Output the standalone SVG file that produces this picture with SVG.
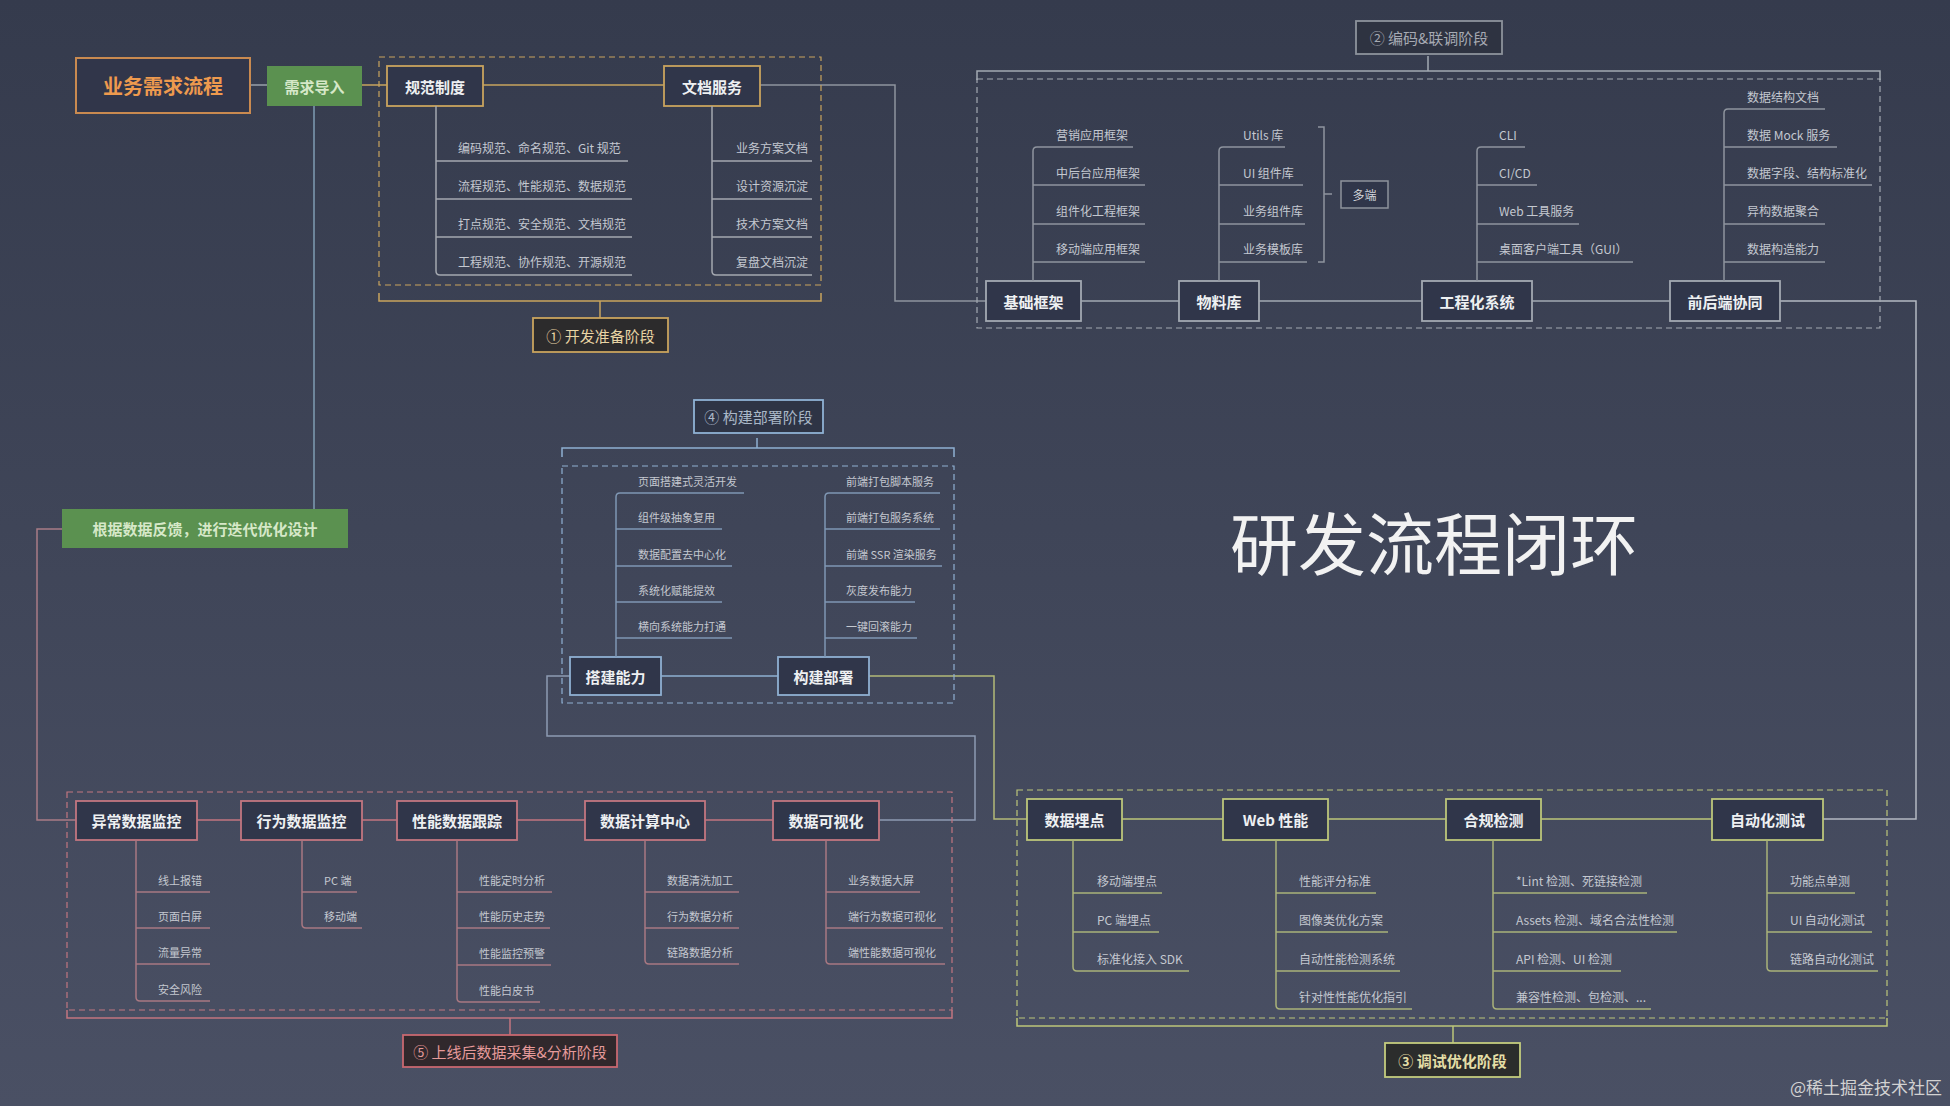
<svg xmlns="http://www.w3.org/2000/svg" width="1950" height="1106" viewBox="0 0 1950 1106">
<defs>
<linearGradient id="bg" x1="0" y1="0" x2="0" y2="1">
<stop offset="0" stop-color="#353b4d"/>
<stop offset="1" stop-color="#4a5064"/>
</linearGradient>
<style>
text{font-family:"Noto Sans CJK SC","Noto Sans",sans-serif;}
.nt{font-size:15px;font-weight:700;fill:#eef0f2;text-anchor:middle;dominant-baseline:central;}
.ct{font-size:12px;fill:#c4c8d0;}
.cs{font-size:11px;fill:#c4c8d0;}
.st{font-size:15px;text-anchor:middle;dominant-baseline:central;}
.ln{fill:none;stroke-width:1.5;}
.dash{fill:none;stroke-width:1.2;stroke-dasharray:6 4;}
.s1{stroke:#c9a45e;}
.s2{stroke:#a3a9b2;}
.s3{stroke:#bcc67a;}
.s4{stroke:#8fb0d2;}
.s5{stroke:#c27680;}
.nf{fill:#30364a;stroke-width:1.8;}
.c1{stroke:#a4a8b0;}
.c2{stroke:#8e949e;}
.c3{stroke:#a9b27a;}
.c4{stroke:#7f97b4;}
.c5{stroke:#a87882;}
</style>
</defs>
<rect x="0" y="0" width="1950" height="1106" fill="url(#bg)"/>

<!-- title -->
<text x="1434" y="540" font-size="68" fill="#f2f2f2" text-anchor="middle" dominant-baseline="central">研发流程闭环</text>

<!-- connectors -->
<g id="connectors">
<path class="ln" stroke="#9aa0aa" d="M250,85 H267"/>
<path class="ln s1" d="M362,85 H387"/>
<path class="ln s1" d="M483,85 H664"/>
<path class="ln" stroke="#8e949e" d="M760,85 H895 V301 H986"/>
<path class="ln s2" d="M1081,301 H1179 M1259,301 H1422 M1532,301 H1670"/>
<path class="ln" stroke="#b4b9c2" d="M1780,301 H1916 V819 H1823"/>
<path class="ln s3" d="M1122,819 H1223 M1328,819 H1446 M1541,819 H1712"/>
<path class="ln" stroke="#b3b978" d="M869,676 H994 V819 H1027"/>
<path class="ln s4" d="M661,676 H778"/>
<path class="ln" stroke="#8d9bb3" d="M879,820 H975 V736 H547 V676 H570"/>
<path class="ln s5" d="M197,820 H241 M362,820 H397 M517,820 H585 M705,820 H773"/>
<path class="ln" stroke="#a97c86" d="M76,820 H37 V529 H62"/>
<path class="ln" stroke="#7f9cb3" d="M314,509 V106"/>
</g>

<!-- section 1 -->
<g id="stage1">
<rect class="dash s1" x="379" y="57" width="442" height="228"/>
<path class="ln s1" d="M379,293 V301 H821 V293 M600,301 V318"/>
<rect x="533" y="318" width="135" height="34" fill="#2c2b2c" stroke="#c9a45e" stroke-width="1.8"/>
<text class="st" x="600.5" y="335" fill="#e8d4a4">① 开发准备阶段</text>
</g>
<g id="n-yewu">
<rect x="76" y="58" width="174" height="55" fill="#31364a" stroke="#c98a50" stroke-width="2"/>
<text x="163" y="85.5" font-size="20" font-weight="700" fill="#ee9a4e" text-anchor="middle" dominant-baseline="central">业务需求流程</text>
</g>
<g id="n-xuqiu">
<rect x="267" y="66" width="95" height="40" fill="#5b9150"/>
<text class="st" x="314.5" y="86" font-weight="700" fill="#d6e8c8">需求导入</text>
</g>
<g id="n-guifan">
<rect class="nf s1" x="387" y="66" width="96" height="40"/>
<text class="nt" x="435" y="86">规范制度</text>
<path class="ln c1" d="M436,106 V271 Q436,275 440,275 H632 M436,161 H628 M436,199 H632 M436,237 H632"/>
<text class="ct" x="458" y="153">编码规范、命名规范、Git 规范</text>
<text class="ct" x="458" y="191">流程规范、性能规范、数据规范</text>
<text class="ct" x="458" y="229">打点规范、安全规范、文档规范</text>
<text class="ct" x="458" y="267">工程规范、协作规范、开源规范</text>
</g>
<g id="n-wendang">
<rect class="nf s1" x="664" y="66" width="96" height="40"/>
<text class="nt" x="712" y="86">文档服务</text>
<path class="ln c1" d="M712,106 V271 Q712,275 716,275 H812 M712,161 H812 M712,199 H812 M712,237 H812"/>
<text class="ct" x="736" y="153">业务方案文档</text>
<text class="ct" x="736" y="191">设计资源沉淀</text>
<text class="ct" x="736" y="229">技术方案文档</text>
<text class="ct" x="736" y="267">复盘文档沉淀</text>
</g>

<!-- section 2 -->
<g id="stage2">
<rect class="dash s2" x="977" y="79" width="903" height="249"/>
<path class="ln s2" d="M977,80 V71 H1880 V80 M1428,56 V71"/>
<rect x="1356" y="21" width="146" height="33" fill="#2e3341" stroke="#8d939c" stroke-width="1.8"/>
<text class="st" x="1429" y="37.5" fill="#a6aab3">② 编码&amp;联调阶段</text>
</g>
<g id="n-jichu">
<rect class="nf s2" x="986" y="281" width="95" height="40"/>
<text class="nt" x="1033.5" y="301">基础框架</text>
<path class="ln c2" d="M1033,281 V151 Q1033,147 1037,147 H1133 M1033,185 H1145 M1033,224 H1145 M1033,262 H1145"/>
<text class="ct" x="1056" y="140">营销应用框架</text>
<text class="ct" x="1056" y="178">中后台应用框架</text>
<text class="ct" x="1056" y="216">组件化工程框架</text>
<text class="ct" x="1056" y="254">移动端应用框架</text>
</g>
<g id="n-wuliao">
<rect class="nf s2" x="1179" y="281" width="80" height="40"/>
<text class="nt" x="1219" y="301">物料库</text>
<path class="ln c2" d="M1219,281 V151 Q1219,147 1223,147 H1285 M1219,185 H1303 M1219,224 H1305 M1219,262 H1307"/>
<text class="ct" x="1243" y="140">Utils 库</text>
<text class="ct" x="1243" y="178">UI 组件库</text>
<text class="ct" x="1243" y="216">业务组件库</text>
<text class="ct" x="1243" y="254">业务模板库</text>
<path class="ln c2" d="M1318,127 H1324 V262 H1318 M1324,194 H1332"/>
</g>
<g id="n-duoduan">
<rect x="1341" y="181" width="47" height="27" fill="#30364a" stroke="#8d939c" stroke-width="1.5"/>
<text x="1364.5" y="194.5" font-size="12" fill="#d4d7dc" text-anchor="middle" dominant-baseline="central">多端</text>
</g>
<g id="n-gongcheng">
<rect class="nf s2" x="1422" y="281" width="110" height="40"/>
<text class="nt" x="1477" y="301">工程化系统</text>
<path class="ln c2" d="M1477,281 V151 Q1477,147 1481,147 H1525 M1477,185 H1537 M1477,224 H1579 M1477,262 H1633"/>
<text class="ct" x="1499" y="140">CLI</text>
<text class="ct" x="1499" y="178">CI/CD</text>
<text class="ct" x="1499" y="216">Web 工具服务</text>
<text class="ct" x="1499" y="254">桌面客户端工具（GUI）</text>
</g>
<g id="n-qianhou">
<rect class="nf s2" x="1670" y="281" width="110" height="40"/>
<text class="nt" x="1725" y="301">前后端协同</text>
<path class="ln c2" d="M1724,281 V113 Q1724,109 1728,109 H1825 M1724,147 H1837 M1724,185 H1872 M1724,224 H1825 M1724,262 H1825"/>
<text class="ct" x="1747" y="102">数据结构文档</text>
<text class="ct" x="1747" y="140">数据 Mock 服务</text>
<text class="ct" x="1747" y="178">数据字段、结构标准化</text>
<text class="ct" x="1747" y="216">异构数据聚合</text>
<text class="ct" x="1747" y="254">数据构造能力</text>
</g>

<!-- section 4 -->
<g id="stage4">
<rect class="dash s4" x="562" y="466" width="392" height="237"/>
<path class="ln s4" d="M562,457 V448 H954 V457 M757,438 V448"/>
<rect x="694" y="400" width="129" height="33" fill="#2e3445" stroke="#8fb2d4" stroke-width="1.8"/>
<text class="st" x="758.5" y="416.5" fill="#aab8c8">④ 构建部署阶段</text>
</g>
<g id="n-dajian">
<rect class="nf s4" x="570" y="657" width="91" height="38"/>
<text class="nt" x="615.5" y="676">搭建能力</text>
<path class="ln c4" d="M616,657 V497 Q616,493 620,493 H744 M616,529 H722 M616,566 H732 M616,602 H722 M616,638 H732"/>
<text class="cs" x="638" y="486">页面搭建式灵活开发</text>
<text class="cs" x="638" y="522">组件级抽象复用</text>
<text class="cs" x="638" y="559">数据配置去中心化</text>
<text class="cs" x="638" y="595">系统化赋能提效</text>
<text class="cs" x="638" y="631">横向系统能力打通</text>
</g>
<g id="n-goujian">
<rect class="nf s4" x="778" y="657" width="91" height="38"/>
<text class="nt" x="823.5" y="676">构建部署</text>
<path class="ln c4" d="M825,657 V497 Q825,493 829,493 H940 M825,529 H940 M825,566 H942 M825,602 H915 M825,638 H917"/>
<text class="cs" x="846" y="486">前端打包脚本服务</text>
<text class="cs" x="846" y="522">前端打包服务系统</text>
<text class="cs" x="846" y="559">前端 SSR 渲染服务</text>
<text class="cs" x="846" y="595">灰度发布能力</text>
<text class="cs" x="846" y="631">一键回滚能力</text>
</g>

<!-- green feedback -->
<g id="n-fankui">
<rect x="62" y="509" width="286" height="39" fill="#5b9150"/>
<text class="st" x="205" y="528.5" font-size="14" font-weight="700" fill="#d6e8c8">根据数据反馈，进行迭代优化设计</text>
</g>

<!-- section 3 -->
<g id="stage3">
<rect class="dash s3" x="1017" y="790" width="870" height="228"/>
<path class="ln s3" d="M1017,1018 V1026 H1887 V1018 M1453,1026 V1043"/>
<rect x="1385" y="1043" width="135" height="34" fill="#2b2d2c" stroke="#c4cc7e" stroke-width="1.8"/>
<text class="st" x="1452.5" y="1060" font-weight="700" fill="#e4dea6">③ 调试优化阶段</text>
</g>
<g id="n-maidian">
<rect class="nf s3" x="1027" y="799" width="95" height="41"/>
<text class="nt" x="1074.5" y="819.5">数据埋点</text>
<path class="ln c3" d="M1073,840 V967 Q1073,971 1077,971 H1189 M1073,893 H1162 M1073,932 H1159"/>
<text class="ct" x="1097" y="886">移动端埋点</text>
<text class="ct" x="1097" y="925">PC 端埋点</text>
<text class="ct" x="1097" y="964">标准化接入 SDK</text>
</g>
<g id="n-web">
<rect class="nf s3" x="1223" y="799" width="105" height="41"/>
<text class="nt" x="1275.5" y="819.5">Web 性能</text>
<path class="ln c3" d="M1276,840 V1005 Q1276,1009 1280,1009 H1412 M1276,893 H1376 M1276,932 H1388 M1276,971 H1400"/>
<text class="ct" x="1299" y="886">性能评分标准</text>
<text class="ct" x="1299" y="925">图像类优化方案</text>
<text class="ct" x="1299" y="964">自动性能检测系统</text>
<text class="ct" x="1299" y="1002">针对性性能优化指引</text>
</g>
<g id="n-hegui">
<rect class="nf s3" x="1446" y="799" width="95" height="41"/>
<text class="nt" x="1493.5" y="819.5">合规检测</text>
<path class="ln c3" d="M1493,840 V1005 Q1493,1009 1497,1009 H1651 M1493,893 H1647 M1493,932 H1677 M1493,971 H1621"/>
<text class="ct" x="1516" y="886">*Lint 检测、死链接检测</text>
<text class="ct" x="1516" y="925">Assets 检测、域名合法性检测</text>
<text class="ct" x="1516" y="964">API 检测、UI 检测</text>
<text class="ct" x="1516" y="1002">兼容性检测、包检测、...</text>
</g>
<g id="n-zidong">
<rect class="nf s3" x="1712" y="799" width="111" height="41"/>
<text class="nt" x="1767.5" y="819.5">自动化测试</text>
<path class="ln c3" d="M1767,840 V967 Q1767,971 1771,971 H1878 M1767,893 H1855 M1767,932 H1872"/>
<text class="ct" x="1790" y="886">功能点单测</text>
<text class="ct" x="1790" y="925">UI 自动化测试</text>
<text class="ct" x="1790" y="964">链路自动化测试</text>
</g>

<!-- section 5 -->
<g id="stage5">
<rect class="dash s5" x="67" y="792" width="885" height="218"/>
<path class="ln s5" d="M67,1010 V1018 H952 V1010 M510,1018 V1035"/>
<rect x="403" y="1035" width="214" height="32" fill="#30282c" stroke="#c86870" stroke-width="1.8"/>
<text class="st" x="510" y="1051" fill="#e69a9a">⑤ 上线后数据采集&amp;分析阶段</text>
</g>
<g id="n-yichang">
<rect class="nf s5" x="76" y="801" width="121" height="39"/>
<text class="nt" x="136.5" y="820.5">异常数据监控</text>
<path class="ln c5" d="M136,840 V997 Q136,1001 140,1001 H210 M136,892 H210 M136,928 H210 M136,964 H210"/>
<text class="cs" x="158" y="885">线上报错</text>
<text class="cs" x="158" y="921">页面白屏</text>
<text class="cs" x="158" y="957">流量异常</text>
<text class="cs" x="158" y="994">安全风险</text>
</g>
<g id="n-xingwei">
<rect class="nf s5" x="241" y="801" width="121" height="39"/>
<text class="nt" x="301.5" y="820.5">行为数据监控</text>
<path class="ln c5" d="M302,840 V924 Q302,928 306,928 H362 M302,892 H357"/>
<text class="cs" x="324" y="885">PC 端</text>
<text class="cs" x="324" y="921">移动端</text>
</g>
<g id="n-xingneng">
<rect class="nf s5" x="397" y="801" width="120" height="39"/>
<text class="nt" x="457" y="820.5">性能数据跟踪</text>
<path class="ln c5" d="M457,840 V998 Q457,1002 461,1002 H540 M457,892 H552 M457,928 H550 M457,965 H551"/>
<text class="cs" x="479" y="885">性能定时分析</text>
<text class="cs" x="479" y="921">性能历史走势</text>
<text class="cs" x="479" y="958">性能监控预警</text>
<text class="cs" x="479" y="995">性能白皮书</text>
</g>
<g id="n-jisuan">
<rect class="nf s5" x="585" y="801" width="120" height="39"/>
<text class="nt" x="645" y="820.5">数据计算中心</text>
<path class="ln c5" d="M645,840 V960 Q645,964 649,964 H739 M645,892 H739 M645,928 H739"/>
<text class="cs" x="667" y="885">数据清洗加工</text>
<text class="cs" x="667" y="921">行为数据分析</text>
<text class="cs" x="667" y="957">链路数据分析</text>
</g>
<g id="n-keshi">
<rect class="nf s5" x="773" y="801" width="106" height="39"/>
<text class="nt" x="826" y="820.5">数据可视化</text>
<path class="ln c5" d="M826,840 V960 Q826,964 830,964 H945 M826,892 H920 M826,928 H943"/>
<text class="cs" x="848" y="885">业务数据大屏</text>
<text class="cs" x="848" y="921">端行为数据可视化</text>
<text class="cs" x="848" y="957">端性能数据可视化</text>
</g>

<text x="1942" y="1094" font-size="17" fill="#d2d2d2" text-anchor="end">@稀土掘金技术社区</text>
</svg>
